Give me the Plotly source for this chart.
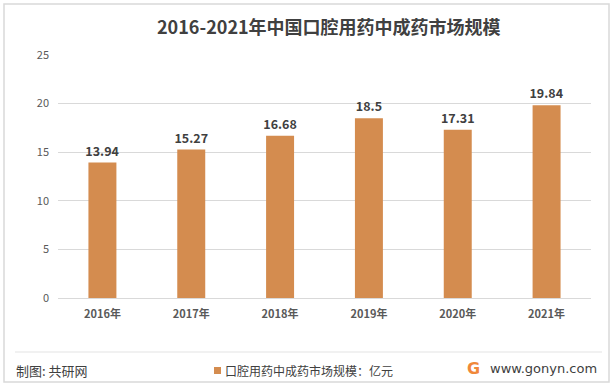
import plotly.graph_objects as go

categories = ["2016年", "2017年", "2018年", "2019年", "2020年", "2021年"]
values = [13.94, 15.27, 16.68, 18.5, 17.31, 19.84]
value_labels = ["13.94", "15.27", "16.68", "18.5", "17.31", "19.84"]
series_name = "口腔用药中成药市场规模：亿元"
y_ticks = [0, 5, 10, 15, 20, 25]

W, H = 614, 388
L, R, T, B = 58, 591, 55, 298
FONT = "Noto Sans CJK SC, Noto Sans, sans-serif"
BAR_COLOR = "#D48C4F"

def px(x):
    return (x - L) / (R - L)

def py(y):
    return (B - y) / (B - T)

fig = go.Figure()
fig.add_trace(go.Bar(
    x=categories, y=values, name=series_name,
    marker=dict(color=BAR_COLOR, line=dict(width=0)),
    text=value_labels, textposition="outside", cliponaxis=False, constraintext="none",
    textfont=dict(family=FONT, size=12.5, color="#404040", weight="bold"),
    width=0.315, showlegend=False,
))

fig.update_layout(
    width=W, height=H,
    margin=dict(l=L, r=W - R, t=T, b=H - B, autoexpand=False),
    paper_bgcolor="white", plot_bgcolor="white",
    font=dict(family=FONT, color="#595959", size=11),
    showlegend=False,
    xaxis=dict(showgrid=False, showline=False, ticks="", tickfont=dict(size=11, color="#595959", weight="bold"),
               ticklabelstandoff=8),
    yaxis=dict(range=[0, 25], tickvals=y_ticks, showgrid=True, gridcolor="#D9D9D9", gridwidth=1,
               zeroline=True, zerolinecolor="#D9D9D9", zerolinewidth=1, showline=False, ticks="",
               tickfont=dict(size=11, color="#595959"), ticklabelstandoff=8),
    bargap=0.685,
)

# title
fig.add_annotation(text="<b>2016-2021年中国口腔用药中成药市场规模</b>", xref="paper", yref="paper",
                   x=px(329), y=py(26), xanchor="center", yanchor="middle", showarrow=False,
                   font=dict(family=FONT, size=18, color="#404040"))

# outer border
fig.add_shape(type="rect", xref="paper", yref="paper",
              x0=px(4), x1=px(609), y0=py(382), y1=py(4),
              line=dict(color="#D9D9D9", width=1.5), fillcolor="rgba(0,0,0,0)", layer="below")
# separator line above footer
fig.add_shape(type="line", xref="paper", yref="paper",
              x0=px(15), x1=px(602), y0=py(352), y1=py(352),
              line=dict(color="#E3E3E3", width=1))

# legend (square + label)
fig.add_shape(type="rect", xref="paper", yref="paper",
              x0=px(214), x1=px(221), y0=py(374), y1=py(367),
              line=dict(width=0), fillcolor=BAR_COLOR)
fig.add_annotation(text=series_name, xref="paper", yref="paper", x=px(223), y=py(370),
                   xanchor="left", yanchor="middle", showarrow=False,
                   font=dict(family=FONT, size=12, color="#404040"))

fig.add_annotation(text="制图: 共研网", xref="paper", yref="paper", x=px(14), y=py(370),
                   xanchor="left", yanchor="middle", showarrow=False,
                   font=dict(family=FONT, size=13, color="#404040"))
fig.add_annotation(text="<b>G</b>", xref="paper", yref="paper", x=px(473), y=py(368),
                   xanchor="center", yanchor="middle", showarrow=False,
                   font=dict(family="DejaVu Sans, sans-serif", size=16, color="#F0883A"))
fig.add_annotation(text="www.gonyn.com", xref="paper", yref="paper", x=px(599), y=py(368),
                   xanchor="right", yanchor="middle", showarrow=False,
                   font=dict(family="DejaVu Sans, sans-serif", size=13, color="#404040"))

fig.write_html("out.html", config={"displayModeBar": False},
               post_script="document.body.style.margin='0';document.body.style.padding='0';")
